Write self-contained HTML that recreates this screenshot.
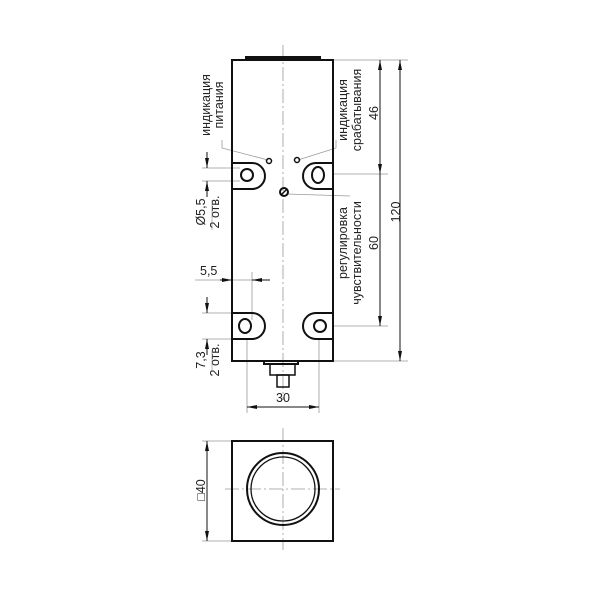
<!DOCTYPE html><html><head><style>body{margin:0;background:#fff}svg{display:block}text{font-family:"Liberation Sans",sans-serif;font-size:12.5px;fill:#222}</style></head><body>
<svg width="600" height="600" viewBox="0 0 600 600" xmlns="http://www.w3.org/2000/svg">
<defs><marker id="a" viewBox="0 0 10 10" refX="10" refY="5" markerUnits="userSpaceOnUse" markerWidth="10" markerHeight="10" orient="auto-start-reverse"><path d="M0,3 L10,5 L0,7 z" fill="#111"/></marker></defs>
<g stroke="#999" stroke-width="0.8" fill="none">
<line x1="283" y1="45" x2="283" y2="400" stroke-dasharray="14,3,2,3"/>
<line x1="283" y1="428" x2="283" y2="550" stroke-dasharray="14,3,2,3"/>
<line x1="225" y1="489" x2="340" y2="489" stroke-dasharray="14,3,2,3"/>
<line x1="333" y1="60" x2="408" y2="60"/><line x1="333" y1="174" x2="388" y2="174"/>
<line x1="333" y1="326" x2="388" y2="326"/><line x1="333" y1="361" x2="408" y2="361"/>
<line x1="247" y1="340" x2="247" y2="413"/><line x1="319" y1="340" x2="319" y2="413"/>
<line x1="202" y1="168" x2="240" y2="168"/><line x1="202" y1="181" x2="240" y2="181"/>
<line x1="202" y1="313" x2="232" y2="313"/><line x1="202" y1="339" x2="232" y2="339"/>
<line x1="202" y1="441" x2="232" y2="441"/><line x1="202" y1="541" x2="232" y2="541"/>
<line x1="252" y1="272" x2="252" y2="320"/><line x1="195" y1="280" x2="270" y2="280"/>
<polyline points="268,160 222,148 222,140"/>
<polyline points="298,160 336,148 336,140"/>
<polyline points="287,194 350,196"/>
</g>
<g stroke="#111" stroke-width="1" fill="none">
<line x1="380" y1="60" x2="380" y2="174" marker-start="url(#a)" marker-end="url(#a)"/>
<line x1="380" y1="174" x2="380" y2="326" marker-end="url(#a)"/>
<line x1="400" y1="60" x2="400" y2="361" marker-start="url(#a)" marker-end="url(#a)"/>
<line x1="247" y1="407" x2="319" y2="407" marker-start="url(#a)" marker-end="url(#a)"/>
<line x1="207" y1="441" x2="207" y2="541" marker-start="url(#a)" marker-end="url(#a)"/>
<line x1="207" y1="152" x2="207" y2="168" marker-end="url(#a)"/>
<line x1="207" y1="197" x2="207" y2="181" marker-end="url(#a)"/>
<line x1="207" y1="297" x2="207" y2="313" marker-end="url(#a)"/>
<line x1="207" y1="355" x2="207" y2="339" marker-end="url(#a)"/>
<line x1="220" y1="280" x2="232" y2="280" marker-end="url(#a)"/>
<line x1="270" y1="280" x2="252" y2="280" marker-end="url(#a)"/>
</g>
<g stroke="#111" stroke-width="2" fill="none">
<rect x="232" y="60" width="101" height="301"/>
<rect x="246" y="57" width="74" height="3" fill="#111"/>
<path d="M232,163 H252 a13,13 0 0 1 0,26 H232"/>
<path d="M333,163 H316 a13,13 0 0 0 0,26 H333"/>
<path d="M232,313 H252 a13,13 0 0 1 0,26 H232"/>
<path d="M333,313 H316 a13,13 0 0 0 0,26 H333"/>
<circle cx="247" cy="175" r="6"/><ellipse cx="318" cy="175" rx="6" ry="8"/>
<ellipse cx="245" cy="326" rx="6" ry="7"/><circle cx="320" cy="326" r="6"/>
<circle cx="269" cy="161" r="2.5" stroke-width="1.5"/><circle cx="297" cy="160" r="2.5" stroke-width="1.5"/>
<circle cx="284" cy="192" r="4"/><line x1="281" y1="195" x2="287" y2="189" stroke-width="1.5"/>
<rect x="264" y="361" width="34" height="3"/>
<rect x="270" y="364" width="25" height="11" stroke-width="1.5"/>
<rect x="277" y="375" width="12" height="12" stroke-width="1.5"/>
<rect x="232" y="441" width="101" height="100"/>
<circle cx="283" cy="489" r="36"/><circle cx="283" cy="489" r="32" stroke-width="1.3"/>
</g>
<g>
<text transform="translate(210,105) rotate(-90)" text-anchor="middle">индикация</text>
<text transform="translate(223,105) rotate(-90)" text-anchor="middle">питания</text>
<text transform="translate(347,110) rotate(-90)" text-anchor="middle">индикация</text>
<text transform="translate(361,110) rotate(-90)" text-anchor="middle">срабатывания</text>
<text transform="translate(378,113) rotate(-90)" text-anchor="middle">46</text>
<text transform="translate(347,243) rotate(-90)" text-anchor="middle">регулировка</text>
<text transform="translate(361,253) rotate(-90)" text-anchor="middle">чувствительности</text>
<text transform="translate(378,243) rotate(-90)" text-anchor="middle">60</text>
<text transform="translate(400,212) rotate(-90)" text-anchor="middle">120</text>
<text transform="translate(205,212) rotate(-90)" text-anchor="middle">Ø5,5</text>
<text transform="translate(219,212) rotate(-90)" text-anchor="middle">2 отв.</text>
<text transform="translate(205,360) rotate(-90)" text-anchor="middle">7,3</text>
<text transform="translate(219,360) rotate(-90)" text-anchor="middle">2 отв.</text>
<text transform="translate(205,490) rotate(-90)" text-anchor="middle">□40</text>
<text x="200" y="275">5,5</text>
<text x="283" y="402" text-anchor="middle">30</text>
</g>
<line x1="212" y1="200" x2="212" y2="230" stroke="#888" stroke-width="0.6"/>
<line x1="212" y1="350" x2="212" y2="372" stroke="#888" stroke-width="0.6"/>
</svg></body></html>
